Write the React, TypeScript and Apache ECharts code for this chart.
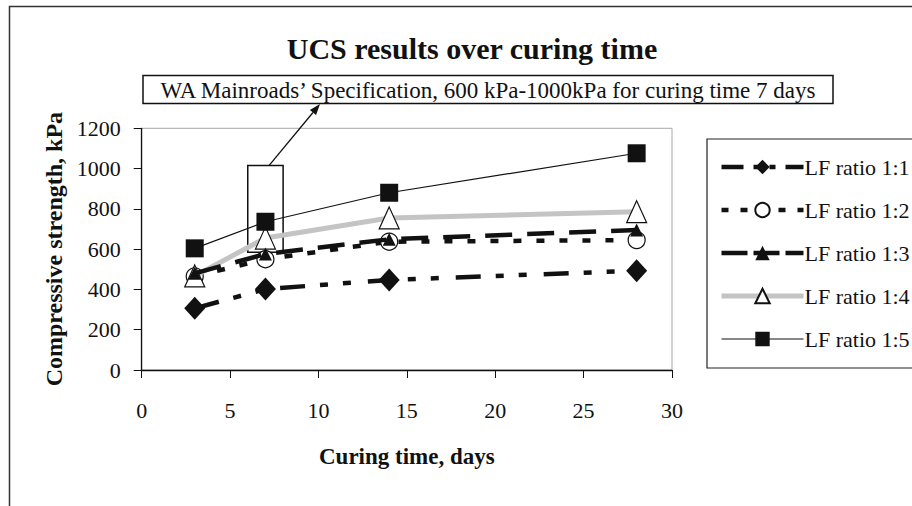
import React, { useEffect, useRef } from "react";
import * as echarts from "echarts";

const days = [3, 7, 14, 28];
const lf11 = [306, 402, 447, 493];
const lf12 = [465, 550, 637, 645];
const lf13 = [480, 576, 649, 695];
const lf14 = [467, 655, 755, 786];
const lf15 = [604, 736, 880, 1076];
const seriesNames = ["LF ratio 1:1", "LF ratio 1:2", "LF ratio 1:3", "LF ratio 1:4", "LF ratio 1:5"];
const xTicks = [0, 5, 10, 15, 20, 25, 30];
const yTicks = [0, 200, 400, 600, 800, 1000, 1200];
const specRange = { xFrom: 6, xTo: 8, yFrom: 585, yTo: 1015 };
const specText = "WA Mainroads\u2019 Specification, 600 kPa-1000kPa for curing time 7 days";

const FONT = "'Liberation Serif', 'Times New Roman', serif";

function pts(vals: number[]) {
  return days.map((d, i) => [d, vals[i]]);
}

const styles = [
  {
    symbol: "diamond",
    symbolSize: [21, 23],
    itemStyle: { color: "#111" },
    lineStyle: { color: "#111", width: 4.5, type: [25, 15, 8, 15, 8, 17] },
    legendLine: { color: "#111", width: 4.5, type: [22, 10, 6, 10, 6, 10] },
  },
  {
    symbol: "circle",
    symbolSize: 17,
    itemStyle: { color: "#fff", borderColor: "#111", borderWidth: 1.2 },
    lineStyle: { color: "#111", width: 4.5, type: [8, 15] },
    legendLine: { color: "#111", width: 4.5, type: [7, 12] },
  },
  {
    symbol: "triangle",
    symbolSize: [13, 13],
    itemStyle: { color: "#111" },
    lineStyle: { color: "#111", width: 4.5, type: [27, 15] },
    legendLine: { color: "#111", width: 4.5, type: [26, 6] },
  },
  {
    symbol: "triangle",
    symbolSize: [20, 22],
    itemStyle: { color: "#fff", borderColor: "#111", borderWidth: 1.2 },
    lineStyle: { color: "#c4c4c4", width: 5, type: "solid" },
    legendLine: { color: "#c4c4c4", width: 5, type: "solid" },
  },
  {
    symbol: "rect",
    symbolSize: 18,
    itemStyle: { color: "#111" },
    lineStyle: { color: "#111", width: 1.2, type: "solid" },
    legendLine: { color: "#111", width: 1.2, type: "solid" },
  },
];
const zOrder = [3, 3, 5, 4, 6];
const seriesValues = [lf11, lf12, lf13, lf14, lf15];

export default function App() {
  const ref = useRef<HTMLDivElement>(null);
  useEffect(() => {
    if (!ref.current) return;
    const chart = echarts.init(ref.current, null, { renderer: "svg" });
    const series: any[] = seriesNames.map((name, i) => {
      const s: any = {
        name,
        type: "line",
        data: pts(seriesValues[i]),
        z: zOrder[i],
        symbol: styles[i].symbol,
        symbolSize: styles[i].symbolSize,
        itemStyle: styles[i].itemStyle,
        lineStyle: styles[i].lineStyle,
      };
      if (i === 4) {
        s.markArea = {
          silent: true,
          itemStyle: { color: "rgba(0,0,0,0)", borderColor: "#111", borderWidth: 1.5 },
          data: [[
            { coord: [specRange.xFrom, specRange.yTo] },
            { coord: [specRange.xTo, specRange.yFrom] },
          ]],
        };
      }
      return s;
    });
    const option: any = {
      animation: false,
      backgroundColor: "#ffffff",
      title: {
        text: "UCS results over curing time",
        left: 467,
        top: 28,
        textAlign: "center",
        textStyle: { fontFamily: FONT, fontSize: 30, fontWeight: "bold", color: "#111" },
      },
      legend: {
        orient: "vertical",
        left: 714,
        top: 151,
        itemWidth: 82,
        itemHeight: 18,
        itemGap: 21,
        data: seriesNames.map((name, i) => ({
          name,
          lineStyle: styles[i].legendLine,
        })),
        textStyle: { fontFamily: FONT, fontSize: 22, color: "#111", padding: [0, 0, 0, -4] },
      },
      grid: {
        left: 141.7,
        right: 240,
        top: 128.3,
        bottom: 136,
        show: true,
        borderColor: "#a8a8a8",
        borderWidth: 1,
        backgroundColor: "transparent",
      },
      xAxis: {
        type: "value",
        min: xTicks[0],
        max: xTicks[xTicks.length - 1],
        interval: 5,
        name: "Curing time, days",
        nameLocation: "middle",
        nameGap: 75,
        nameTextStyle: { fontFamily: FONT, fontSize: 23, fontWeight: "bold", color: "#111" },
        axisLine: { show: true, onZero: false, lineStyle: { color: "#111", width: 1.3 } },
        axisTick: { show: true, inside: false, length: 8, lineStyle: { color: "#111", width: 1 } },
        axisLabel: { fontFamily: FONT, fontSize: 22, color: "#111", margin: 29, formatter: (v: number) => String(v) },
        splitLine: { show: false },
      },
      yAxis: {
        type: "value",
        min: yTicks[0],
        max: yTicks[yTicks.length - 1],
        interval: 200,
        name: "Compressive strength, kPa",
        nameLocation: "middle",
        nameGap: 74,
        nameRotate: 90,
        nameTextStyle: { fontFamily: FONT, fontSize: 24, fontWeight: "bold", color: "#111" },
        axisLine: { show: true, onZero: false, lineStyle: { color: "#111", width: 1.3 } },
        axisTick: { show: true, inside: false, length: 8, lineStyle: { color: "#111", width: 1 } },
        axisLabel: { fontFamily: FONT, fontSize: 22, color: "#111", margin: 21, formatter: (v: number) => String(v) },
        splitLine: { show: false },
      },
      series,
    };
    chart.setOption(option);

    const start = chart.convertToPixel({ gridIndex: 0 }, [7.2, specRange.yTo]) as number[];
    const tip = [320, 104];
    const dx = tip[0] - start[0];
    const dy = tip[1] - start[1];
    const len = Math.sqrt(dx * dx + dy * dy);
    const ux = dx / len, uy = dy / len;
    const hl = 11, hw = 4;
    const bx = tip[0] - ux * hl, by = tip[1] - uy * hl;
    chart.setOption({
      graphic: [
        {
          type: "rect",
          silent: true,
          shape: { x: 9.5, y: 6.5, width: 1000, height: 600 },
          style: { fill: "none", stroke: "#333", lineWidth: 1.5 },
          z: 0,
        },
        {
          type: "rect",
          silent: true,
          shape: { x: 707, y: 139, width: 300, height: 229 },
          style: { fill: "none", stroke: "#222", lineWidth: 1.2 },
          z: 10,
        },
        {
          type: "line",
          silent: true,
          shape: { x1: start[0], y1: start[1], x2: bx, y2: by },
          style: { stroke: "#111", lineWidth: 1.3 },
          z: 10,
        },
        {
          type: "polygon",
          silent: true,
          shape: {
            points: [
              [tip[0], tip[1]],
              [bx + uy * hw, by - ux * hw],
              [bx - uy * hw, by + ux * hw],
            ],
          },
          style: { fill: "#111" },
          z: 10,
        },
        {
          type: "rect",
          silent: true,
          shape: { x: 143, y: 75.5, width: 690, height: 28 },
          style: { fill: "#fff", stroke: "#111", lineWidth: 1.5 },
          z: 10,
        },
        {
          type: "text",
          silent: true,
          x: 488,
          y: 90,
          style: {
            text: specText,
            fontFamily: FONT,
            fontSize: 23,
            fill: "#111",
            align: "center",
            verticalAlign: "middle",
          },
          z: 11,
        },
      ],
    });
    return () => chart.dispose();
  }, []);
  return (
    <div
      ref={ref}
      style={{ position: "fixed", left: 0, top: 0, width: 912, height: 506, background: "#fff" }}
    />
  );
}
